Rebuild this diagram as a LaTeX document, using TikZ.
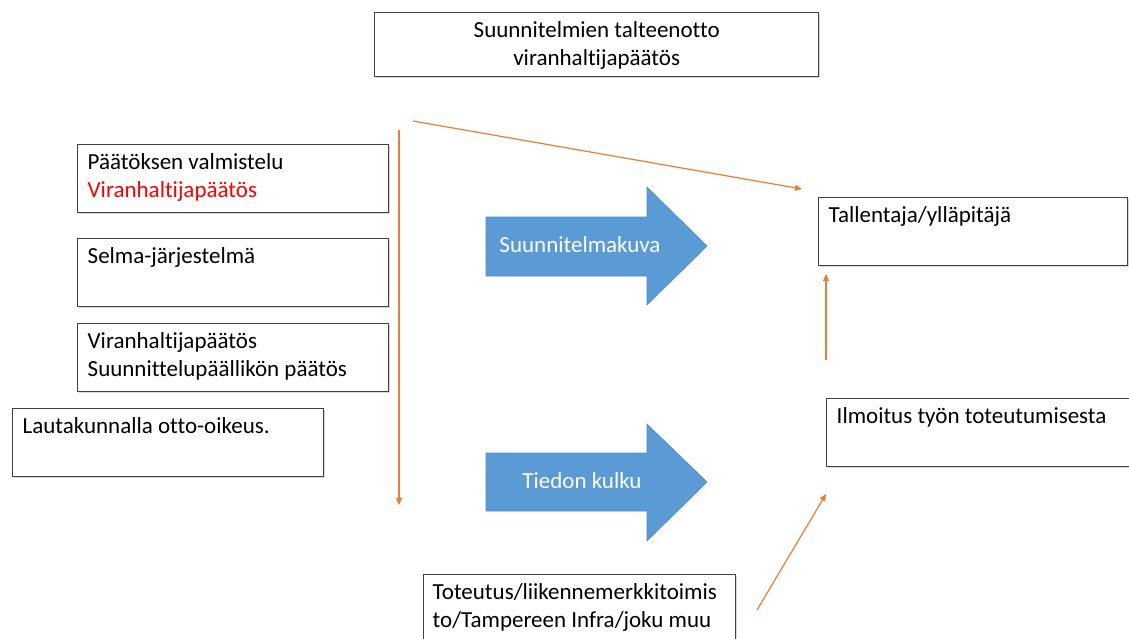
\documentclass[tikz,border=0pt]{standalone}
\usepackage{fontspec}
\setmainfont[Ligatures={NoCommon}]{Carlito}
\usetikzlibrary{arrows.meta,shadows}
\definecolor{boxline}{HTML}{404040}
\definecolor{arrblue}{HTML}{5B9BD5}
\definecolor{arredge}{HTML}{4F8CC6}
\definecolor{orng}{HTML}{ED7D31}
\definecolor{redtxt}{HTML}{FF0000}
\newcommand{\btext}[2]{\hspace*{10pt}\parbox[t][68pt][t]{#1}{\rule{0pt}{25pt}#2}}
\newcommand{\ctext}[2]{\parbox[t][64pt][t]{#1}{\centering\rule{0pt}{25pt}#2}}
\begin{document}
\begin{tikzpicture}[x=1pt,y=-1pt,
  every node/.style={font=\fontsize{23pt}{28pt}\selectfont},
  infobox/.style={draw=boxline,line width=1.4pt,fill=white,rectangle,inner sep=0pt,
    anchor=north west,align=left,
    drop shadow={shadow xshift=1.2pt,shadow yshift=-1.2pt,fill=black!25,opacity=0.6}},
  flowarrow/.style={fill=arrblue,draw=arredge,line width=0.6pt},
  flowtext/.style={text=white,inner sep=0pt},
  link/.style={draw=orng,line width=1.2pt,-{Triangle[length=7pt,width=6pt]}}]
\useasboundingbox (0,0) rectangle (1129,639);

% boxes
\node[infobox] (top) at (374,12) {\ctext{444pt}{Suunnitelmien talteenotto\\viranhaltijapäätös}};
\node[infobox] (valm) at (77,144) {\btext{301pt}{Päätöksen valmistelu\\\textcolor{redtxt}{Viranhaltijapäätös}}};
\node[infobox] (selma) at (77,238) {\btext{301pt}{Selma-järjestelmä}};
\node[infobox] (vhp) at (77,323) {\btext{301pt}{Viranhaltijapäätös\\Suunnittelupäällikön päätös}};
\node[infobox] (lauta) at (12,408) {\btext{301pt}{Lautakunnalla otto-oikeus.}};
\node[infobox] (tall) at (818,197) {\btext{299pt}{Tallentaja/ylläpitäjä}};
\node[infobox] (ilm) at (826,398) {\btext{310pt}{Ilmoitus työn toteutumisesta}};
\node[infobox] (tot) at (423,574) {\hspace*{-1pt}\btext{302pt}{\rule{0pt}{24pt}Toteutus/liikennemerkkitoimis\\to/Tampereen Infra/joku muu}\hspace*{1pt}};

% blue block arrows
\path[flowarrow] (486,217) -- (647,217) -- (647,187) -- (707,246) -- (647,305) -- (647,276) -- (486,276) -- cycle;
\node[flowtext] (kuva) at (580,245) {Suunnitelmakuva};
\path[flowarrow] (486,453) -- (647,453) -- (647,424) -- (707,482) -- (647,541) -- (647,511) -- (486,511) -- cycle;
\node[flowtext] (kulku) at (582,481) {Tiedon kulku};

% orange connectors
\coordinate (vtop) at (399,130);
\coordinate (vbot) at (399,505);
\coordinate (dstart) at (413,121);
\coordinate (dend) at (802,189);
\coordinate (ustart) at (826,360);
\coordinate (uend) at (826,274);
\coordinate (bstart) at (757,610);
\coordinate (bend) at (826,494);
\draw[link] (vtop) -- (vbot);
\draw[link] (dstart) -- (dend);
\draw[link] (ustart) -- (uend);
\draw[link] (bstart) -- (bend);
\end{tikzpicture}
\end{document}
